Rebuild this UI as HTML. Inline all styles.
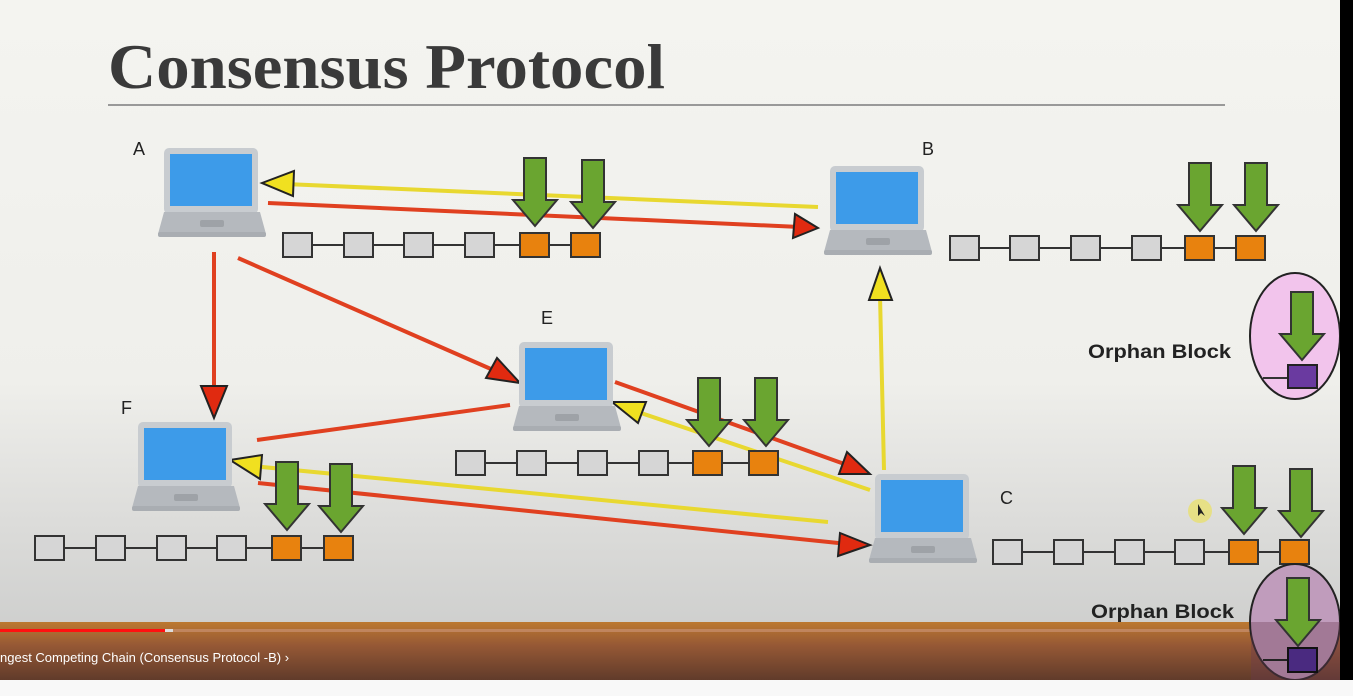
<!DOCTYPE html>
<html><head><meta charset="utf-8"><style>
html,body{margin:0;padding:0;width:1353px;height:696px;overflow:hidden;background:#f7f7f7}
svg{display:block}
</style></head><body>
<svg width="1353" height="696" viewBox="0 0 1353 696" xmlns="http://www.w3.org/2000/svg">
<defs>
<linearGradient id="bg" x1="0" y1="0" x2="0" y2="1">
<stop offset="0" stop-color="#f4f4f0"/><stop offset="0.55" stop-color="#efefeb"/><stop offset="0.75" stop-color="#dcdcda"/><stop offset="1" stop-color="#c6c7c6"/>
</linearGradient>
<linearGradient id="bar" x1="0" y1="0" x2="0" y2="1">
<stop offset="0" stop-color="#b8660e"/><stop offset="0.4" stop-color="#8a3f14"/><stop offset="1" stop-color="#4a1c08"/>
</linearGradient>
<g id="lap">
<rect x="4" y="0" width="94" height="66" rx="5" fill="#c8ccd0"/>
<rect x="10" y="6" width="82" height="52" fill="#3d9be9"/>
<polygon points="4,64 100,64 106,86 -2,86" fill="#b5b9be"/>
<rect x="-2" y="84" width="108" height="5" rx="2" fill="#a9adb2"/>
<rect x="40" y="72" width="24" height="7" rx="2" fill="#9ea2a7"/>
</g>
<g id="gray"><rect width="29" height="24" fill="#d6d6d6" stroke="#333" stroke-width="2"/></g>
<g id="orng"><rect width="29" height="24" fill="#e8820e" stroke="#333" stroke-width="2"/></g>
<g id="garr"><polygon points="-11,0 11,0 11,42 22,42 0,68 -22,42 -11,42" fill="#6aa530" stroke="#333" stroke-width="2"/></g>
</defs>
<rect width="1353" height="696" fill="url(#bg)"/>
<text x="108" y="88" font-family="Liberation Serif,serif" font-weight="bold" font-size="64" fill="#3a3a3a" textLength="557" lengthAdjust="spacingAndGlyphs">Consensus Protocol</text>
<line x1="108" y1="105" x2="1225" y2="105" stroke="#999" stroke-width="2"/>

<g stroke-width="4" fill="none">
<line x1="818" y1="207" x2="285" y2="184" stroke="#e8d830"/>
<line x1="268" y1="203" x2="800" y2="227" stroke="#e04020"/>
<line x1="214" y1="252" x2="214" y2="395" stroke="#e04020"/>
<line x1="238" y1="258" x2="500" y2="373" stroke="#e04020"/>
<line x1="615" y1="382" x2="850" y2="466" stroke="#e04020"/>
<line x1="870" y1="490" x2="632" y2="410" stroke="#e8d830"/>
<line x1="257" y1="440" x2="510" y2="405" stroke="#e04020"/>
<line x1="258" y1="483" x2="848" y2="544" stroke="#e04020"/>
<line x1="828" y1="522" x2="252" y2="466" stroke="#e8d830"/>
<line x1="884" y1="470" x2="880" y2="295" stroke="#e8d830"/>
</g>
<g stroke="#222" stroke-width="2">
<polygon points="262,183 294,171 293,196" fill="#f0e020"/>
<polygon points="818,228 795,214 793,238" fill="#e02a10"/>
<polygon points="214,418 201,386 227,386" fill="#e02a10"/>
<polygon points="520,383 486,378 497,358" fill="#e02a10"/>
<polygon points="870,474 839,474 847,452" fill="#e02a10"/>
<polygon points="612,402 646,402 638,423" fill="#f0e020"/>
<polygon points="870,545 838,556 840,533" fill="#e02a10"/>
<polygon points="230,460 262,455 260,479" fill="#f0e020"/>
<polygon points="880,268 869,300 892,300" fill="#f0e020"/>
</g>

<use href="#lap" x="160" y="148"/>
<use href="#lap" x="826" y="166"/>
<use href="#lap" x="515" y="342"/>
<use href="#lap" x="134" y="422"/>
<use href="#lap" x="871" y="474"/>

<g font-family="Liberation Sans,sans-serif" font-size="18" fill="#222">
<text x="133" y="155">A</text><text x="922" y="155">B</text><text x="541" y="324">E</text><text x="121" y="414">F</text><text x="1000" y="504">C</text>
</g>
<g font-family="Liberation Sans,sans-serif" font-weight="bold" font-size="19" fill="#222">
<text x="1088" y="358" textLength="143" lengthAdjust="spacingAndGlyphs">Orphan Block</text><text x="1091" y="618" textLength="143" lengthAdjust="spacingAndGlyphs">Orphan Block</text>
</g>

<g stroke="#333" stroke-width="2">
<line x1="283" y1="245" x2="600" y2="245"/>
<line x1="950" y1="248" x2="1265" y2="248"/>
<line x1="456" y1="463" x2="778" y2="463"/>
<line x1="35" y1="548" x2="353" y2="548"/>
<line x1="993" y1="552" x2="1309" y2="552"/>
</g>
<use href="#gray" x="283" y="233"/><use href="#gray" x="344" y="233"/><use href="#gray" x="404" y="233"/><use href="#gray" x="465" y="233"/><use href="#orng" x="520" y="233"/><use href="#orng" x="571" y="233"/>
<use href="#gray" x="950" y="236"/><use href="#gray" x="1010" y="236"/><use href="#gray" x="1071" y="236"/><use href="#gray" x="1132" y="236"/><use href="#orng" x="1185" y="236"/><use href="#orng" x="1236" y="236"/>
<use href="#gray" x="456" y="451"/><use href="#gray" x="517" y="451"/><use href="#gray" x="578" y="451"/><use href="#gray" x="639" y="451"/><use href="#orng" x="693" y="451"/><use href="#orng" x="749" y="451"/>
<use href="#gray" x="35" y="536"/><use href="#gray" x="96" y="536"/><use href="#gray" x="157" y="536"/><use href="#gray" x="217" y="536"/><use href="#orng" x="272" y="536"/><use href="#orng" x="324" y="536"/>
<use href="#gray" x="993" y="540"/><use href="#gray" x="1054" y="540"/><use href="#gray" x="1115" y="540"/><use href="#gray" x="1175" y="540"/><use href="#orng" x="1229" y="540"/><use href="#orng" x="1280" y="540"/>

<use href="#garr" x="535" y="158"/><use href="#garr" x="593" y="160"/>
<use href="#garr" x="1200" y="163"/><use href="#garr" x="1256" y="163"/>
<use href="#garr" x="709" y="378"/><use href="#garr" x="766" y="378"/>
<use href="#garr" x="287" y="462"/><use href="#garr" x="341" y="464"/>
<use href="#garr" x="1244" y="466"/><use href="#garr" x="1301" y="469"/>

<ellipse cx="1295" cy="336" rx="45" ry="63" fill="#f2c4ec" stroke="#222" stroke-width="2"/>
<line x1="1263" y1="378" x2="1288" y2="378" stroke="#333" stroke-width="2"/>
<use href="#garr" x="1302" y="292"/>
<rect x="1288" y="365" width="29" height="23" fill="#6a3aa0" stroke="#222" stroke-width="2"/>

<circle cx="1200" cy="511" r="12" fill="#e8e070" opacity="0.8"/>
<polygon points="1198,504 1198,516 1201,513 1205,516" fill="#222"/>

<rect x="0" y="622" width="1340" height="58" fill="url(#bar)" opacity="0.82"/>
<rect x="0" y="629" width="1340" height="3" fill="#c89070" opacity="0.7"/>
<rect x="0" y="629" width="165" height="3" fill="#ff1010"/>
<rect x="165" y="629" width="8" height="3" fill="#ddd"/>
<text x="0" y="662" font-family="Liberation Sans,sans-serif" font-size="13" fill="#fff">ngest Competing Chain (Consensus Protocol -B) ›</text>

<ellipse cx="1295" cy="622" rx="45" ry="58" fill="#c09cbc" stroke="#222" stroke-width="2"/>
<rect x="1251" y="622" width="90" height="58" fill="#6a3a50" opacity="0.35"/>
<line x1="1263" y1="660" x2="1288" y2="660" stroke="#222" stroke-width="2"/>
<use href="#garr" x="1298" y="578"/>
<rect x="1288" y="648" width="29" height="24" fill="#4a2a80" stroke="#111" stroke-width="2"/>

<rect x="1340" y="0" width="13" height="680" fill="#000"/>
<rect x="0" y="680" width="1353" height="16" fill="#f8f8f8"/>
</svg>
</body></html>
